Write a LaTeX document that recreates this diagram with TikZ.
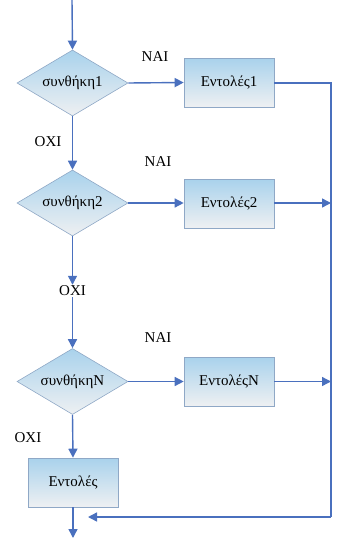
\documentclass[tikz,border=0pt]{standalone}
\usepackage{fontspec}
\setmainfont{Liberation Serif}
\usetikzlibrary{shapes.geometric,arrows.meta,shadows}
\definecolor{flow}{HTML}{4A70BE}
\definecolor{topfill}{HTML}{A9D2EC}
\definecolor{botfill}{HTML}{EEF0F2}
\definecolor{edge}{HTML}{8FA8C6}
\begin{document}
\begin{tikzpicture}[x=1pt,y=-1pt,
  cond/.style={shape=diamond,aspect=1.68,draw=edge,line width=0.6pt,top color=topfill,bottom color=botfill,
    minimum width=111pt,minimum height=66pt,inner sep=0pt,font=\rmfamily\fontsize{15}{17}\selectfont},
  proc/.style={rectangle,draw=edge,line width=0.6pt,top color=topfill,bottom color=botfill,
    minimum width=90pt,minimum height=49pt,inner sep=0pt,font=\rmfamily\fontsize{15}{17}\selectfont,
    drop shadow={opacity=0.18,shadow xshift=1.2pt,shadow yshift=-1.2pt}},
  lbl/.style={font=\rmfamily\fontsize{15}{17}\selectfont,inner sep=1pt},
  flw/.style={draw=flow,line width=1.4pt},
  arr/.style={flw,-{Triangle[length=9pt,width=9pt]}}]
\useasboundingbox (0,0) rectangle (339,538);
\coordinate (start) at (72,0);
\node[cond] (d1) at (72.5,83) {συνθήκη1};
\node[proc] (b1) at (229,82.5) {Εντολές1};
\node[cond] (d2) at (72.5,203) {συνθήκη2};
\node[proc] (b2) at (229,203.5) {Εντολές2};
\node[lbl] (oxi2) at (72.5,291) {ΟΧΙ};
\node[cond] (d3) at (72.5,381.5) {συνθήκηΝ};
\node[proc] (b3) at (229,381.5) {ΕντολέςΝ};
\node[proc] (b0) at (73,482.5) {Εντολές};
\node[lbl] (nai1) at (155,57) {ΝΑΙ};
\node[lbl] (oxi1) at (48,142) {ΟΧΙ};
\node[lbl] (nai2) at (158,162) {ΝΑΙ};
\node[lbl] (nai3) at (158,338) {ΝΑΙ};
\node[lbl] (oxi3) at (28,438) {ΟΧΙ};
\coordinate (rtop) at (331,83);
\coordinate (rbot) at (331,517);
\coordinate (ret) at (88,517);
\coordinate (endp) at (73,538);
\draw[arr] (start) -- (d1.north);
\draw[arr] (d1.east) -- (b1.west);
\draw[flw] (b1.east |- rtop) -- (rtop) -- (rbot);
\draw[arr] (rbot) -- (ret);
\draw[arr] (d1.south) -- (d2.north);
\draw[arr] (d2.east) -- (d2.east -| b2.west);
\draw[arr] (b2.east |- d2.east) -- (d2.east -| rtop);
\draw[arr] (d2.south) -- (oxi2.north);
\draw[arr] (oxi2.south) -- (d3.north);
\draw[arr] (d3.east) -- (d3.east -| b3.west);
\draw[arr] (b3.east |- d3.east) -- (d3.east -| rtop);
\draw[arr] (d3.south) -- (b0.north);
\draw[arr] (b0.south) -- (endp);
\end{tikzpicture}
\end{document}
